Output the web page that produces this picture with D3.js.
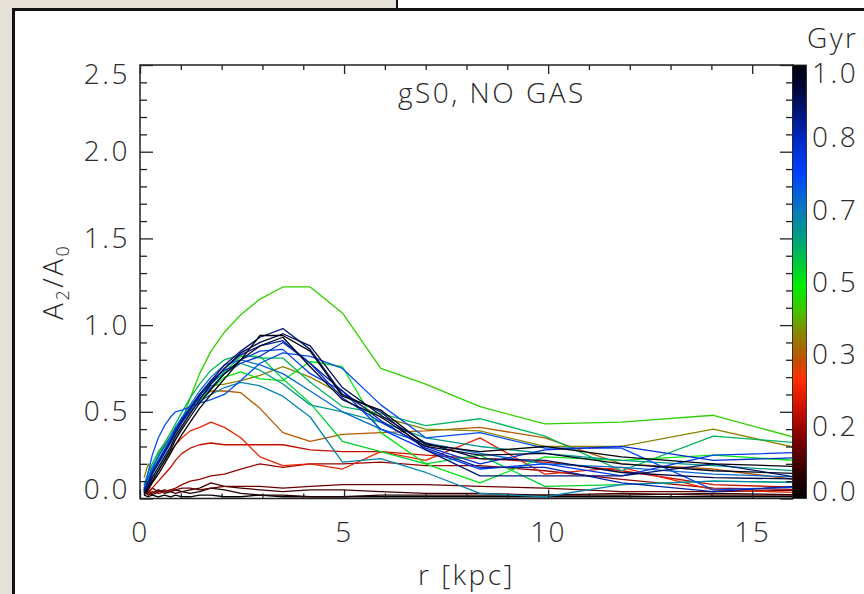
<!DOCTYPE html>
<html><head><meta charset="utf-8">
<script src="https://cdn.jsdelivr.net/npm/d3@7"></script>
<style>
html,body{margin:0;padding:0;background:#e6e1d6;}
svg{display:block;}
text{font-family:"Open Sans","DejaVu Sans",sans-serif;font-weight:300;fill:#2a2a2a;letter-spacing:2.5px;}
</style></head><body>
<svg id="chart" width="864" height="594"></svg>
<script>
// radial sample points of the bar-strength profiles (kpc)
const radii = [0.1,0.2,0.3,0.45,0.6,0.75,0.87,1.03,1.23,1.46,1.74,2.07,2.47,2.94,3.5,4.17,4.96,5.9,7.0,8.33,9.92,11.8,14.05,16.7];

// A2/A0 profiles, one per snapshot, with its time in Gyr
const snapTimes = [0.00,0.04,0.08,0.12,0.16,0.20,0.25,0.33,0.38,0.45,0.50,0.53,0.57,0.61,0.65,0.69,0.73,0.77,0.81,0.85,0.89,0.93,0.97,1.00];
const snap00 = [0.02,0.01,0.02,0.01,0.02,0.01,0.02,0.01,0.01,0.02,0.02,0.01,0.01,0.02,0.01,0.01,0.01,0.01,0.01,0.01,0.01,0.01,0.01,0.01];
const snap01 = [0.04,0.02,0.03,0.05,0.03,0.04,0.05,0.04,0.03,0.04,0.06,0.05,0.03,0.02,0.02,0.01,0.01,0.02,0.02,0.02,0.02,0.02,0.03,0.02];
const snap02 = [0.03,0.05,0.02,0.04,0.05,0.04,0.03,0.04,0.05,0.06,0.09,0.07,0.06,0.05,0.04,0.05,0.05,0.04,0.03,0.03,0.02,0.03,0.02,0.02];
const snap03 = [0.05,0.03,0.06,0.04,0.04,0.05,0.05,0.06,0.06,0.05,0.06,0.07,0.07,0.07,0.06,0.07,0.08,0.08,0.08,0.07,0.06,0.04,0.04,0.05];
const snap04 = [0.06,0.02,0.04,0.03,0.04,0.05,0.06,0.08,0.10,0.11,0.13,0.14,0.17,0.20,0.18,0.20,0.20,0.21,0.19,0.19,0.16,0.11,0.06,0.05];
const snap05 = [0.08,0.04,0.06,0.10,0.14,0.18,0.22,0.26,0.29,0.31,0.32,0.31,0.31,0.31,0.31,0.28,0.27,0.27,0.25,0.23,0.21,0.16,0.08,0.06];
const snap06 = [0.10,0.06,0.10,0.16,0.22,0.27,0.31,0.35,0.39,0.41,0.44,0.41,0.35,0.24,0.19,0.20,0.17,0.27,0.22,0.35,0.14,0.18,0.05,0.03];
const snap07 = [0.08,0.06,0.12,0.16,0.22,0.28,0.34,0.41,0.49,0.57,0.62,0.62,0.61,0.52,0.38,0.33,0.37,0.38,0.39,0.41,0.35,0.20,0.17,0.09];
const snap08 = [0.12,0.20,0.15,0.26,0.31,0.36,0.41,0.46,0.52,0.60,0.65,0.66,0.68,0.71,0.76,0.70,0.60,0.47,0.40,0.39,0.30,0.30,0.40,0.26];
const snap09 = [0.05,0.08,0.12,0.17,0.23,0.29,0.36,0.45,0.58,0.72,0.85,0.96,1.06,1.15,1.22,1.22,1.07,0.75,0.66,0.53,0.43,0.44,0.48,0.31];
const snap10 = [0.04,0.10,0.15,0.25,0.30,0.34,0.40,0.44,0.50,0.57,0.63,0.70,0.73,0.69,0.68,0.79,0.76,0.38,0.20,0.09,0.24,0.22,0.25,0.21];
const snap11 = [0.06,0.12,0.18,0.25,0.30,0.34,0.38,0.45,0.52,0.60,0.66,0.73,0.82,0.82,0.69,0.55,0.33,0.27,0.20,0.25,0.07,0.08,0.10,0.09];
const snap12 = [0.08,0.15,0.20,0.27,0.32,0.38,0.43,0.50,0.58,0.66,0.74,0.80,0.83,0.81,0.81,0.67,0.53,0.49,0.42,0.46,0.36,0.16,0.36,0.31];
const snap13 = [0.05,0.10,0.17,0.25,0.30,0.35,0.40,0.46,0.53,0.60,0.67,0.72,0.78,0.74,0.66,0.54,0.50,0.44,0.35,0.30,0.26,0.22,0.19,0.15];
const snap14 = [0.04,0.08,0.14,0.22,0.28,0.33,0.38,0.44,0.50,0.56,0.60,0.64,0.67,0.65,0.59,0.47,0.21,0.23,0.15,0.03,0.01,0.08,0.10,0.09];
const snap15 = [0.06,0.12,0.18,0.24,0.30,0.36,0.41,0.47,0.54,0.62,0.70,0.77,0.80,0.77,0.72,0.62,0.50,0.40,0.32,0.26,0.20,0.18,0.14,0.12];
const snap16 = [0.05,0.15,0.25,0.35,0.42,0.47,0.50,0.51,0.53,0.55,0.57,0.60,0.68,0.78,0.84,0.82,0.75,0.54,0.35,0.38,0.29,0.29,0.05,0.07];
const snap17 = [0.04,0.10,0.16,0.22,0.28,0.34,0.40,0.46,0.52,0.58,0.64,0.72,0.80,0.85,0.86,0.72,0.62,0.40,0.28,0.17,0.20,0.13,0.25,0.27];
const snap18 = [0.05,0.09,0.15,0.21,0.27,0.33,0.39,0.45,0.52,0.60,0.68,0.74,0.78,0.82,0.90,0.78,0.58,0.44,0.30,0.20,0.28,0.30,0.22,0.24];
const snap19 = [0.03,0.08,0.14,0.20,0.26,0.32,0.38,0.44,0.51,0.59,0.67,0.75,0.83,0.88,0.91,0.78,0.62,0.45,0.29,0.18,0.18,0.09,0.04,0.08];
const snap20 = [0.04,0.09,0.15,0.21,0.27,0.33,0.39,0.45,0.52,0.60,0.68,0.77,0.85,0.93,0.98,0.86,0.60,0.50,0.28,0.13,0.13,0.13,0.20,0.10];
const snap21 = [0.03,0.07,0.12,0.18,0.24,0.30,0.36,0.42,0.49,0.57,0.66,0.75,0.84,0.90,0.95,0.88,0.64,0.48,0.32,0.23,0.22,0.15,0.12,0.11];
const snap22 = [0.02,0.06,0.10,0.16,0.22,0.28,0.34,0.40,0.47,0.55,0.63,0.72,0.80,0.88,0.93,0.76,0.57,0.47,0.30,0.25,0.26,0.20,0.16,0.14];
const snap23 = [0.02,0.05,0.09,0.14,0.20,0.26,0.31,0.37,0.44,0.52,0.60,0.69,0.80,0.94,0.94,0.85,0.59,0.51,0.31,0.27,0.30,0.24,0.20,0.18];
const profiles = [snap00,snap01,snap02,snap03,snap04,snap05,snap06,snap07,snap08,snap09,snap10,snap11,
                  snap12,snap13,snap14,snap15,snap16,snap17,snap18,snap19,snap20,snap21,snap22,snap23];

// axis ticks and labels
const xMajor = [0,5,10,15];
const xMinor = [1,2,3,4,6,7,8,9,11,12,13,14];
const yMajor = [0,0.5,1.0,1.5,2.0,2.5];
const yMinor = [0.1,0.2,0.3,0.4,0.6,0.7,0.8,0.9,1.1,1.2,1.3,1.4,1.6,1.7,1.8,1.9,2.1,2.2,2.3,2.4];
const barTicks = [0,1/6,2/6,3/6,4/6,5/6,1];
const titleText = "gS0, NO GAS";
const barUnit = "Gyr";

// colour table: time (Gyr) -> colour
const cmapStops = [0,0.06,0.14,0.21,0.276,0.32,0.38,0.43,0.49,0.6,0.67,0.75,0.83,0.94,1];
const cmapColors = ["#000000","#300000","#800000","#d01000","#ff3000","#c05000","#8c8400","#48c000","#00f000",
                    "#00a080","#0878c0","#0040ff","#0028c0","#000840","#000008"];
const cmap = d3.scaleLinear().domain(cmapStops).range(cmapColors).interpolate(d3.interpolateRgb);

const svg = d3.select("#chart");
const L = 140, R = 793, T = 65, B = 498.5;
const x = d3.scaleLinear().domain([0,16]).range([L,R]);
const y = d3.scaleLinear().domain([0,2.5]).range([B,T]);

// page background and panel frame
svg.append("rect").attr("x",0).attr("y",0).attr("width",864).attr("height",594).attr("fill","#e6e1d6");
svg.append("rect").attr("x",397).attr("y",-5).attr("width",480).attr("height",20).attr("fill","#fff")
   .attr("stroke","#111").attr("stroke-width",2);
svg.append("rect").attr("x",13.5).attr("y",9.5).attr("width",880).attr("height",600).attr("fill","#fff")
   .attr("stroke","#111").attr("stroke-width",3);

// clip for the profile lines
svg.append("clipPath").attr("id","plotclip").append("rect")
   .attr("x",L).attr("y",T).attr("width",R-L).attr("height",B-T);

const line = d3.line().x((d,i)=>x(radii[i])).y(d=>y(d));
svg.append("g").attr("clip-path","url(#plotclip)")
  .selectAll("path").data(profiles).join("path")
  .attr("d",line).attr("fill","none")
  .attr("stroke",(d,i)=>cmap(snapTimes[i]))
  .attr("stroke-width",1.3).attr("stroke-linejoin","round");

// axes
const axisCol = "#222";
function styleAxis(g){ g.select(".domain").remove(); g.selectAll("line").attr("stroke",axisCol).attr("stroke-width",1.3); }
const fmtNone = () => "";
svg.append("g").attr("transform",`translate(0,${B})`).call(d3.axisBottom(x).tickValues(xMinor).tickSize(-5).tickFormat(fmtNone)).call(styleAxis);
svg.append("g").attr("transform",`translate(0,${B})`)
   .call(d3.axisBottom(x).tickValues(xMajor).tickSize(-9).tickPadding(24).tickFormat(d3.format("d"))).call(styleAxis)
   .selectAll("text").attr("font-size",28).attr("fill","#2a2a2a").attr("font-family",null);
svg.append("g").attr("transform",`translate(0,${T})`).call(d3.axisTop(x).tickValues(xMinor).tickSize(-5).tickFormat(fmtNone)).call(styleAxis);
svg.append("g").attr("transform",`translate(0,${T})`).call(d3.axisTop(x).tickValues(xMajor).tickSize(-9).tickFormat(fmtNone)).call(styleAxis);

svg.append("g").attr("transform",`translate(${L},0)`).call(d3.axisLeft(y).tickValues(yMinor).tickSize(-7).tickFormat(fmtNone)).call(styleAxis);
const yl = svg.append("g").attr("transform",`translate(${L},0)`)
   .call(d3.axisLeft(y).tickValues(yMajor).tickSize(-13).tickPadding(10).tickFormat(d3.format(".1f"))).call(styleAxis);
yl.selectAll("text").attr("font-size",28).attr("fill","#2a2a2a").attr("font-family",null)
  .attr("y",d=>{const p=y(d); return Math.min(Math.max(p,T+10),B-8.5)-p;});
svg.append("g").attr("transform",`translate(${R},0)`).call(d3.axisRight(y).tickValues(yMinor).tickSize(-7).tickFormat(fmtNone)).call(styleAxis);
svg.append("g").attr("transform",`translate(${R},0)`).call(d3.axisRight(y).tickValues(yMajor).tickSize(-13).tickFormat(fmtNone)).call(styleAxis);

// plot box
svg.append("rect").attr("x",L).attr("y",T).attr("width",R-L).attr("height",B-T)
   .attr("fill","none").attr("stroke",axisCol).attr("stroke-width",1.5);

// colour bar
const cb = d3.scaleLinear().domain([0,1]).range([B,T]);
const grad = svg.append("defs").append("linearGradient").attr("id","cbar")
   .attr("x1",0).attr("y1",1).attr("x2",0).attr("y2",0);
grad.selectAll("stop").data(cmapStops).join("stop")
   .attr("offset",d=>d).attr("stop-color",(d,i)=>cmapColors[i]);
svg.append("rect").attr("x",R-0.5).attr("y",T).attr("width",14).attr("height",B-T)
   .attr("fill","url(#cbar)").attr("stroke","#222").attr("stroke-width",0.8);
svg.append("g").selectAll("text").data(barTicks).join("text")
   .attr("x",812).attr("y",d=>Math.min(Math.max(cb(d),T+8),B-8))
   .attr("dy","0.36em").attr("font-size",28).text(d=>d3.format(".1f")(d));
svg.append("text").attr("x",807).attr("y",48).attr("font-size",28).attr("letter-spacing",1.5).text(barUnit);

// titles
svg.append("text").attr("x",398).attr("y",103).attr("font-size",28).attr("letter-spacing",3.2).text(titleText);
svg.append("text").attr("x",(L+R)/2).attr("y",585).attr("text-anchor","middle").attr("font-size",28).attr("letter-spacing",3).text("r [kpc]");
const yt = svg.append("text").attr("transform",`translate(63,${(T+B)/2}) rotate(-90)`)
   .attr("text-anchor","middle").attr("font-size",28);
yt.append("tspan").text("A");
yt.append("tspan").attr("font-size",18).attr("dy",6).text("2");
yt.append("tspan").attr("dy",-6).text("/A");
yt.append("tspan").attr("font-size",18).attr("dy",6).text("0");
</script>
</body></html>
